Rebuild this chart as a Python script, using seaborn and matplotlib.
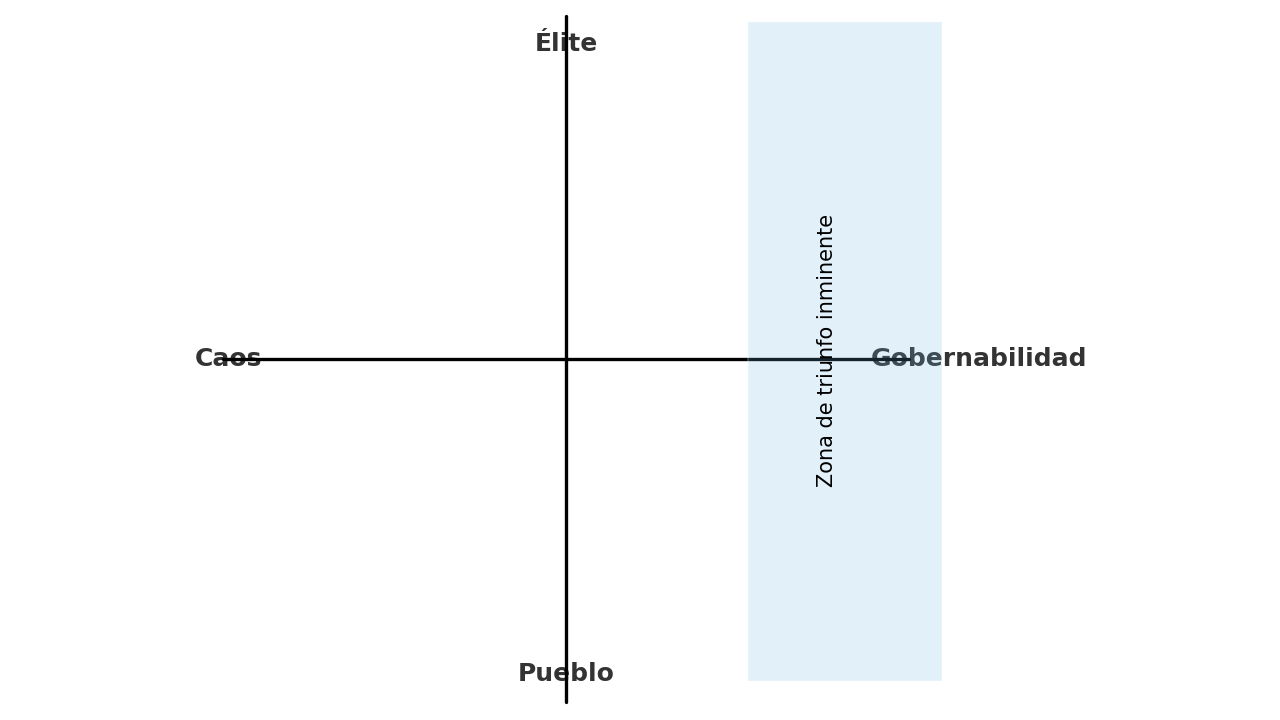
import matplotlib
matplotlib.use("Agg")
import matplotlib.pyplot as plt
import seaborn as sns
from matplotlib.patches import Rectangle

# Quadrant axes (data units)
h_x = [-1.0, 1.0]
h_y = [0.0, 0.0]
v_x = [0.0, 0.0]
v_y = [-1.0, 1.0]

# Pole labels
labels = ["Élite", "Pueblo", "Caos", "Gobernabilidad"]
label_x = [0.0, 0.0, -0.886, 0.889]
label_y = [0.918, -0.918, 0.0, 0.0]
label_ha = ["center", "center", "right", "left"]

# Highlighted zone
zone_x = [0.53, 1.096]
zone_y = [-0.94, 0.982]
zone_text = "Zona de triunfo inminente"

sns.set_theme(style="white")
plt.rcParams['font.family'] = ['DejaVu Sans']

fig = plt.figure(figsize=(12.8, 7.2), dpi=100)
ax = fig.add_axes([0, 0, 1, 1])

for t, x, y, ha in zip(labels, label_x, label_y, label_ha):
    ax.text(x, y, t, ha=ha, va="center", fontsize=18, fontweight="bold",
            color="#333333", zorder=1)

sns.lineplot(x=h_x, y=h_y, color="black", linewidth=2.4, sort=False,
             estimator=None, ax=ax, zorder=2)
sns.lineplot(x=v_x, y=v_y, color="black", linewidth=2.4, sort=False,
             estimator=None, ax=ax, zorder=2)

ax.add_patch(Rectangle((zone_x[0], zone_y[0]), zone_x[1] - zone_x[0],
                       zone_y[1] - zone_y[0], facecolor="#6eb9e1", alpha=0.2,
                       edgecolor="white", linewidth=1.5, zorder=3))
ax.text(0.762, 0.024, zone_text, rotation=90, ha="center", va="center",
        fontsize=15, color="black", zorder=4)

ax.set_xlim(-566 / 343, (1280 - 566) / 343)
ax.set_ylim(-(720 - 359) / 343, 359 / 343)
ax.axis("off")

fig.savefig("out.png", dpi=100)
